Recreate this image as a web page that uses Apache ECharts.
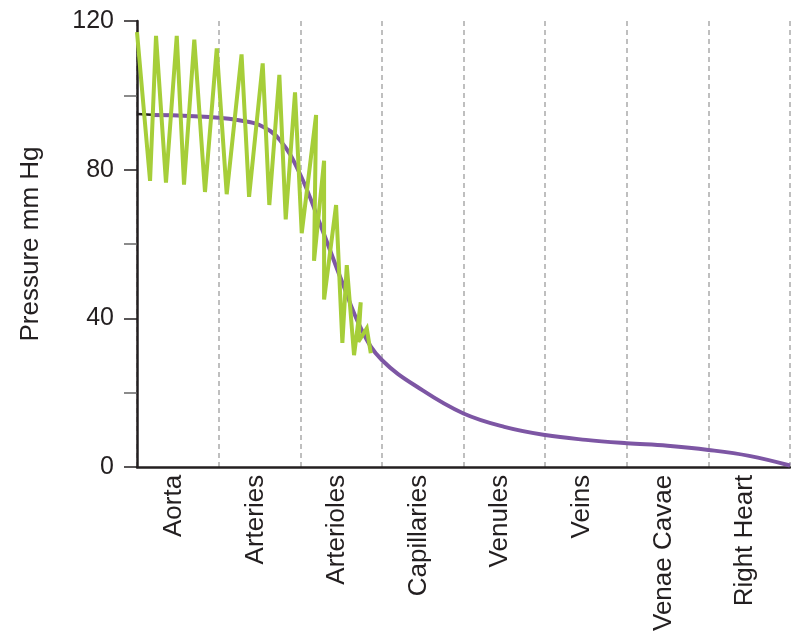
<!DOCTYPE html>
<html>
<head>
<meta charset="utf-8">
<script src="https://cdn.jsdelivr.net/npm/echarts@6/dist/echarts.min.js"></script>
<style>
html,body{margin:0;padding:0;background:#fff;}
#chart{width:791px;height:634px;}
</style>
</head>
<body>
<div id="chart"></div>
<script>
var categories = ['Aorta', 'Arteries', 'Arterioles', 'Capillaries', 'Venules', 'Veins', 'Venae Cavae', 'Right Heart'];
var yTicks = [0, 40, 80, 120];

// pulsatile pressure (x in category units, y in mm Hg)
var pulseX = [0, 0.16, 0.233, 0.355, 0.487, 0.576, 0.702, 0.833, 0.977, 1.099, 1.281, 1.373, 1.540, 1.621, 1.744, 1.822, 1.936, 2.018, 2.194, 2.169, 2.292, 2.292, 2.439, 2.516, 2.570, 2.659, 2.741, 2.712, 2.815, 2.864];
var pulseY = [117, 77, 116, 76.5, 116, 76, 115, 74, 112.6, 73.4, 111, 72.7, 108.6, 70.5, 105.5, 66.6, 100.8, 62.9, 94.7, 55.5, 82.4, 45.1, 70.5, 33.4, 54.3, 30.1, 44.3, 33.7, 37.3, 30.6];

// mean pressure
var meanX = [0.18, 0.5, 1.0, 1.25, 1.5, 1.75, 2.0, 2.25, 2.5, 2.75, 3.0, 3.5, 4.0, 4.5, 5.0, 5.5, 6.0, 6.5, 7.0, 7.5, 8.0];
var meanY = [94.7, 94.6, 94.0, 93.3, 92.0, 88.0, 78.7, 65.0, 50.5, 37.0, 28.8, 20.6, 14.4, 10.8, 8.6, 7.3, 6.4, 5.7, 4.6, 3.0, 0.4];

// short black lead-in segment
var leadX = [0, 0.18];
var leadY = [95, 94.8];

function zip(xs, ys) { return xs.map(function (x, i) { return [x, ys[i]]; }); }

var dark = '#231f20';
var font = 'Liberation Sans, Arial, sans-serif';
var chart = echarts.init(document.getElementById('chart'), null, {renderer: 'canvas'});
chart.setOption({
  animation: false,
  backgroundColor: '#fff',
  grid: [
    {left: 137, right: 1, top: 21, bottom: 167, containLabel: false},
    {left: 133, right: 5, top: 21, bottom: 167, containLabel: false}
  ],
  xAxis: [{
    gridIndex: 0, type: 'value', min: 0, max: categories.length, interval: 1,
    axisLine: {show: true, lineStyle: {color: dark, width: 2.5}},
    axisTick: {show: false}, axisLabel: {show: false},
    splitLine: {show: true, lineStyle: {color: '#aaaaaa', type: [5, 4], width: 1.5}}
  }, {
    gridIndex: 1, type: 'category', data: categories, position: 'bottom', boundaryGap: true,
    axisLine: {show: false}, axisTick: {show: false}, splitLine: {show: false},
    axisLabel: {show: true, interval: 0, rotate: 90, margin: 12, fontSize: 26,
      fontFamily: font, color: dark}
  }],
  yAxis: [{
    gridIndex: 0, type: 'value', min: yTicks[0], max: yTicks[yTicks.length - 1], interval: 40,
    name: 'Pressure mm Hg', nameLocation: 'middle', nameGap: 93,
    nameTextStyle: {fontSize: 26, fontFamily: font, color: dark},
    axisLine: {show: true, lineStyle: {color: dark, width: 2.5}},
    axisTick: {show: true, length: 13, lineStyle: {color: dark, width: 1.5}},
    minorTick: {show: true, splitNumber: 2, length: 13, lineStyle: {color: '#666', width: 1.5}},
    axisLabel: {margin: 23, fontSize: 25, fontFamily: font, color: dark},
    splitLine: {show: false}
  }, {
    gridIndex: 1, type: 'value', min: 0, max: 120, show: false
  }],
  series: [{
    type: 'line', xAxisIndex: 0, yAxisIndex: 0, data: zip(meanX, meanY), smooth: 0.4, showSymbol: false,
    lineStyle: {color: '#7d56a4', width: 4}, z: 2
  }, {
    type: 'line', xAxisIndex: 0, yAxisIndex: 0, data: zip(leadX, leadY), showSymbol: false,
    lineStyle: {color: dark, width: 2.5}, z: 3
  }, {
    type: 'line', xAxisIndex: 0, yAxisIndex: 0, data: zip(pulseX, pulseY), showSymbol: false,
    lineStyle: {color: '#a6ce39', width: 4, join: 'miter', miterLimit: 3}, z: 4
  }]
});
</script>
</body>
</html>
